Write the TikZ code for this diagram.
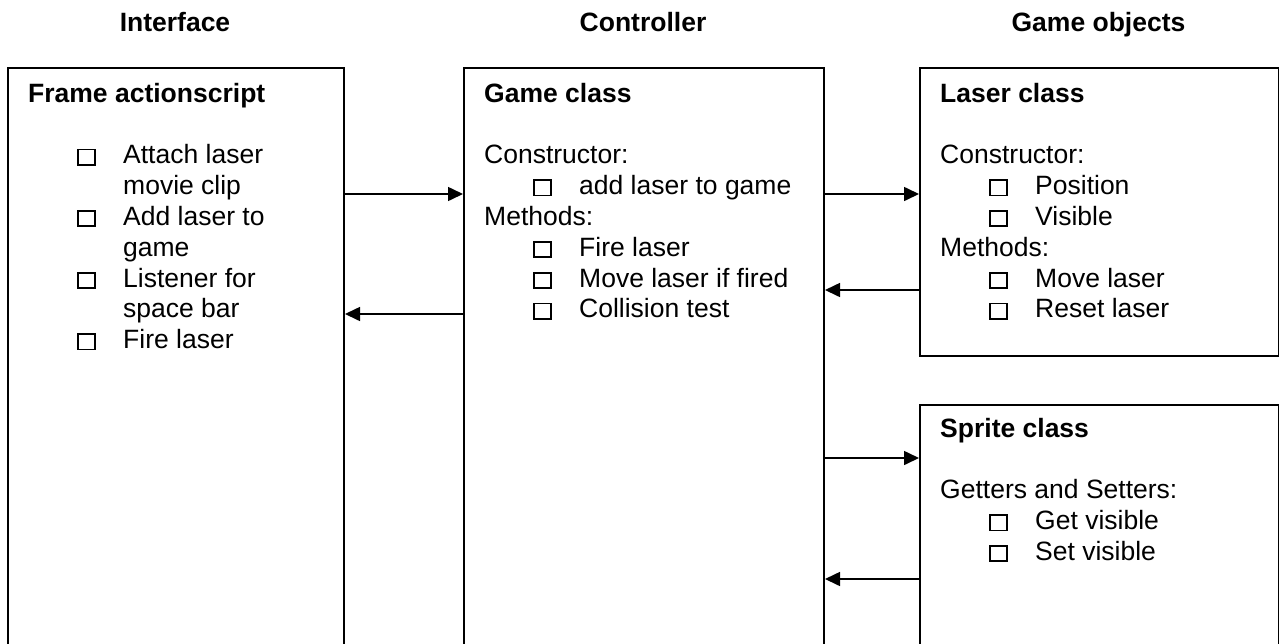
\documentclass[tikz,border=0pt]{standalone}
\usepackage{fontspec}
\setmainfont{Liberation Sans}
\usetikzlibrary{arrows.meta}
\newcommand\cb{\makebox[95pt][l]{\hspace*{49pt}{\setlength\fboxrule{1.8pt}\setlength\fboxsep{0pt}\fbox{\rule{0pt}{13.4pt}\rule{15.4pt}{0pt}}}}}
\newcommand\ind{\hspace*{95pt}}
\begin{document}
\begin{tikzpicture}[x=1pt,y=-1pt,
  box/.style={draw, line width=2pt, inner sep=0pt, anchor=north west},
  txt/.style={anchor=north west, inner sep=0pt, align=left, font=\fontsize{26.5}{30.8}\selectfont},
  hdr/.style={anchor=base, inner sep=0pt, font=\fontsize{26.5}{30.8}\selectfont\bfseries},
  arr/.style={line width=1.6pt, -{Triangle[length=15pt,width=14pt]}}]
\useasboundingbox (0,0) rectangle (1279,643);
% headers
\node[hdr] (h1) at (175,31) {Interface};
\node[hdr] (h2) at (643,31) {Controller};
\node[hdr] (h3) at (1098.5,31) {Game objects};
% boxes
\node[box, minimum width=336pt, minimum height=576.5pt] (L) at (7,67) {};
\node[box, minimum width=360pt, minimum height=576.5pt] (M) at (463,67) {};
\node[box, minimum width=359pt, minimum height=288pt] (La) at (919,67) {};
\node[box, minimum width=359pt, minimum height=239.5pt] (S) at (919,404) {};
% texts
\node[txt] (Lt) at (28,80.44) {\strut\textbf{Frame actionscript}\\ \strut\\
  \cb Attach laser\\ \ind movie clip\\ \cb Add laser to\\ \ind game\\
  \cb Listener for\\ \ind space bar\\ \cb Fire laser};
\node[txt] (Mt) at (484,80.44) {\strut\textbf{Game class}\\ \strut\\
  Constructor:\\ \cb add laser to game\\ Methods:\\ \cb Fire laser\\
  \cb Move laser if fired\\ \cb Collision test};
\node[txt] (Lat) at (940,80.44) {\strut\textbf{Laser class}\\ \strut\\
  Constructor:\\ \cb Position\\ \cb Visible\\ Methods:\\ \cb Move laser\\
  \cb Reset laser};
\node[txt] (St) at (940,415.44) {\strut\textbf{Sprite class}\\ \strut\\
  Getters and Setters:\\ \cb Get visible\\ \cb Set visible};
% arrow levels
\coordinate (y1) at (0,194);
\coordinate (y2) at (0,314);
\coordinate (y3) at (0,290);
\coordinate (y4) at (0,458);
\coordinate (y5) at (0,579);
\draw[arr] (L.east |- y1) -- (M.west |- y1);
\draw[arr] (M.west |- y2) -- (L.east |- y2);
\draw[arr] (M.east |- y1) -- (La.west |- y1);
\draw[arr] (La.west |- y3) -- (M.east |- y3);
\draw[arr] (M.east |- y4) -- (S.west |- y4);
\draw[arr] (S.west |- y5) -- (M.east |- y5);
\end{tikzpicture}
\end{document}
